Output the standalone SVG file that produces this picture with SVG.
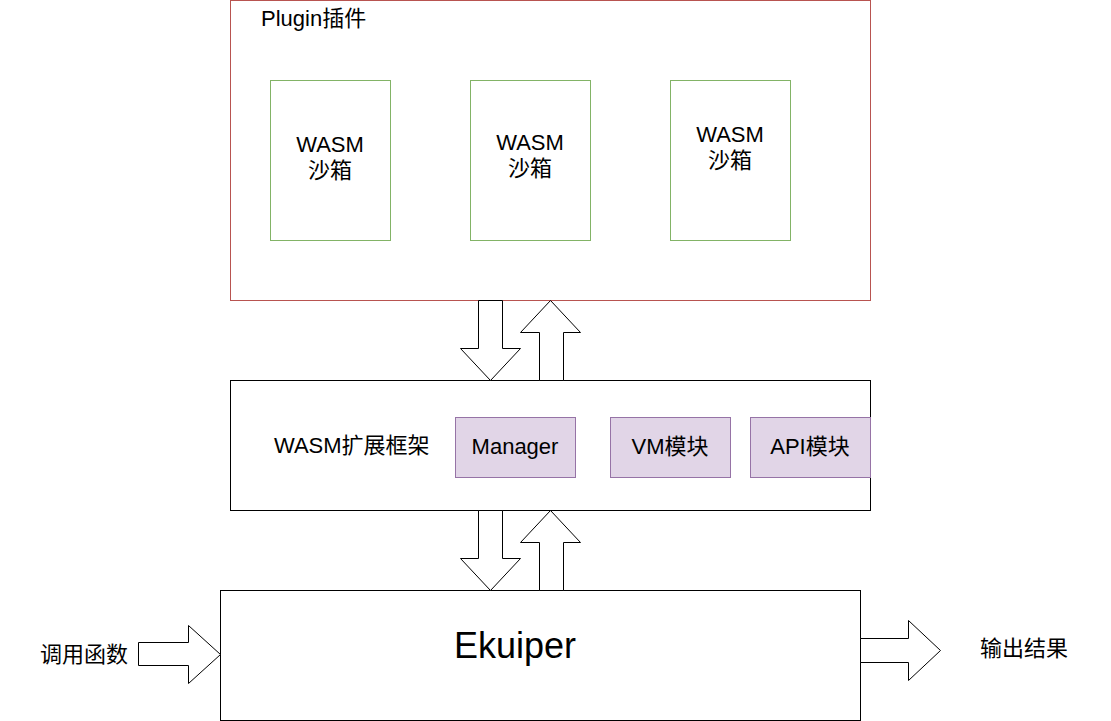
<svg xmlns="http://www.w3.org/2000/svg" width="1111" height="721" viewBox="0 0 1111 721">
<style>
text{font-family:"Liberation Sans","Noto Sans CJK SC",sans-serif;font-size:22px;fill:#000}
.c{text-anchor:middle}
.sb{fill:#fff;stroke:#82b366;stroke-width:1}
.md{fill:#e1d5e7;stroke:#9673a6;stroke-width:1}
.bx{fill:#fff;stroke:#000;stroke-width:1}
.ar{fill:#fff;stroke:#000;stroke-width:1;stroke-linejoin:miter}
</style>
<rect width="1111" height="721" fill="#fff"/>
<g id="plugin">
<rect x="230.5" y="0.5" width="640" height="300" fill="#fff" stroke="#b85450"/>
<text x="261" y="26">Plugin插件</text>
</g>
<g id="sandbox1">
<rect class="sb" x="270.5" y="80.5" width="120" height="160"/>
<text class="c" x="330" y="152">WASM</text>
<text class="c" x="330" y="178">沙箱</text>
</g>
<g id="sandbox2">
<rect class="sb" x="470.5" y="80.5" width="120" height="160"/>
<text class="c" x="530" y="150">WASM</text>
<text class="c" x="530" y="176">沙箱</text>
</g>
<g id="sandbox3">
<rect class="sb" x="670.5" y="80.5" width="120" height="160"/>
<text class="c" x="730" y="142">WASM</text>
<text class="c" x="730" y="168">沙箱</text>
</g>
<g id="framework">
<rect class="bx" x="230.5" y="380.5" width="640" height="130"/>
<text x="274" y="453">WASM扩展框架</text>
</g>
<g id="manager">
<rect class="md" x="455.5" y="417.5" width="120" height="60"/>
<text class="c" x="515" y="454">Manager</text>
</g>
<g id="vm">
<rect class="md" x="610.5" y="417.5" width="120" height="60"/>
<text class="c" x="670" y="454">VM模块</text>
</g>
<g id="api">
<rect class="md" x="750.5" y="417.5" width="120" height="60"/>
<text class="c" x="810" y="454">API模块</text>
</g>
<g id="ekuiper">
<rect class="bx" x="220.5" y="590.5" width="640" height="130"/>
<text class="c" x="515" y="658" style="font-size:36px">Ekuiper</text>
</g>
<g id="input-label"><text x="40" y="662">调用函数</text></g>
<g id="output-label"><text x="980" y="656">输出结果</text></g>
<g id="connectors">
<path class="ar" d="M478.5 300.5 L502.5 300.5 L502.5 348.5 L520.5 348.5 L490.5 380.5 L460.5 348.5 L478.5 348.5 Z"/>
<path class="ar" d="M539.5 380.5 L539.5 332.5 L520.5 332.5 L550.5 300.5 L580.5 332.5 L563.5 332.5 L563.5 380.5 Z"/>
<path class="ar" d="M478.5 510.5 L502.5 510.5 L502.5 558.5 L520.5 558.5 L490.5 590.5 L460.5 558.5 L478.5 558.5 Z"/>
<path class="ar" d="M539.5 590.5 L539.5 542.5 L520.5 542.5 L550.5 510.5 L580.5 542.5 L563.5 542.5 L563.5 590.5 Z"/>
<path class="ar" d="M138.5 642.5 L188.5 642.5 L188.5 625.5 L220.5 654.5 L188.5 683.5 L188.5 665.5 L138.5 665.5 Z"/>
<path class="ar" d="M860.5 638.5 L908.5 638.5 L908.5 620.5 L940.5 650.5 L908.5 680.5 L908.5 662.5 L860.5 662.5 Z"/>
</g>
</svg>
